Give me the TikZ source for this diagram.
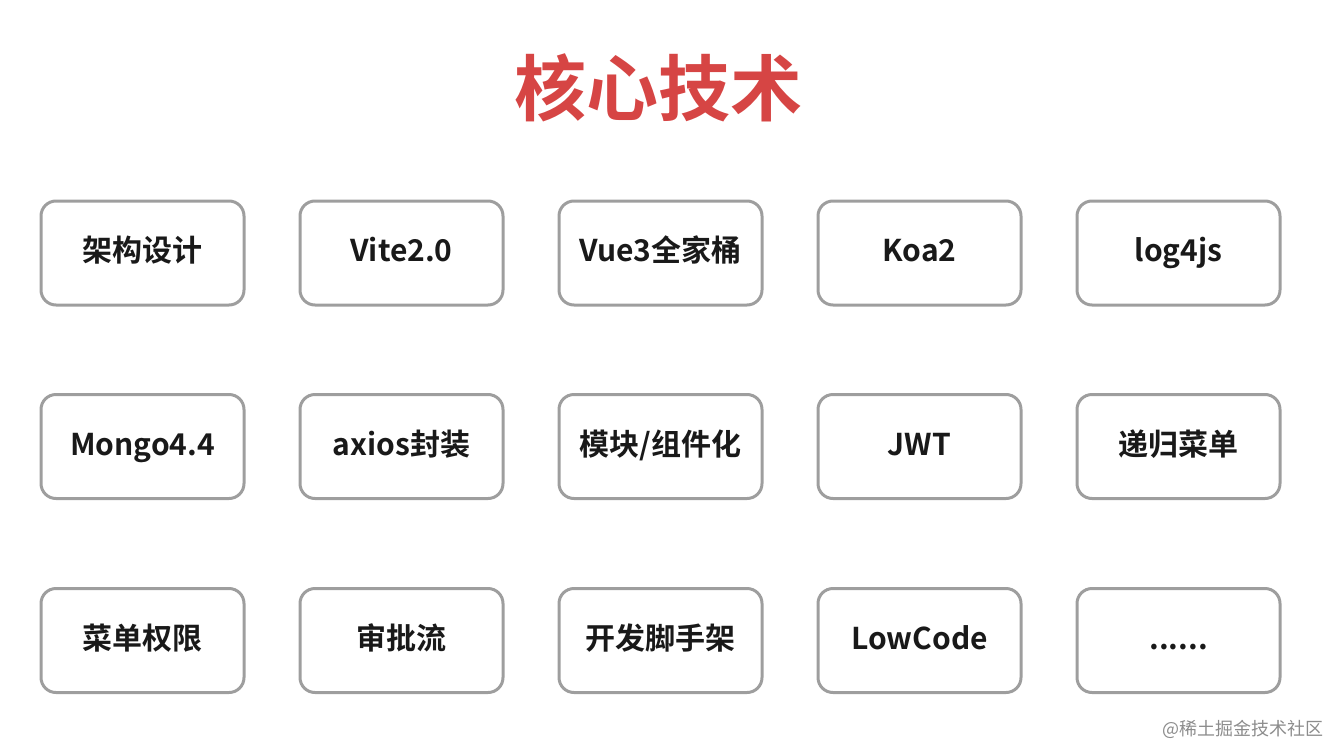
\documentclass[tikz,border=0pt]{standalone}
\usepackage{fontspec}
\setmainfont{Noto Sans CJK SC}
\newfontfamily\cjkb{Noto Sans CJK SC Bold}
\begin{document}
\begin{tikzpicture}[x=1pt,y=-1pt,
  cell/.style={draw=black!38,line width=3pt,rounded corners=15pt,minimum width=203pt,minimum height=104pt,text height=24pt,text depth=7pt,font=\cjkb\fontsize{30}{30}\selectfont,text=black!90},
]
\useasboundingbox (0,0) rectangle (1333,747);
\node[font=\cjkb\fontsize{72}{72}\selectfont,text={rgb,255:red,214;green,69;blue,68}] (title) at (658,88) {核心技术};
\def\xs{{142.5,401.5,660.5,919.5,1178.5}}
\foreach \r/\y in {0/253,1/446.5,2/640.5}{
  \foreach \c in {0,...,4}{
    \pgfmathsetmacro\xx{\xs[\c]}
    \coordinate (p\r\c) at (\xx,\y);
  }
}
\node[cell] (a1) at (p00) {架构设计};
\node[cell] (a2) at (p01) {Vite2.0};
\node[cell] (a3) at (p02) {Vue3全家桶};
\node[cell] (a4) at (p03) {Koa2};
\node[cell] (a5) at (p04) {log4js};
\node[cell] (b1) at (p10) {Mongo4.4};
\node[cell] (b2) at (p11) {axios封装};
\node[cell] (b3) at (p12) {模块/组件化};
\node[cell] (b4) at (p13) {JWT};
\node[cell] (b5) at (p14) {递归菜单};
\node[cell] (c1) at (p20) {菜单权限};
\node[cell] (c2) at (p21) {审批流};
\node[cell] (c3) at (p22) {开发脚手架};
\node[cell] (c4) at (p23) {LowCode};
\node[cell] (c5) at (p24) {......};
\node[font=\fontsize{18}{18}\selectfont,text=black!45,anchor=east] (wm) at (1327,729) {@稀土掘金技术社区};
\end{tikzpicture}
\end{document}
